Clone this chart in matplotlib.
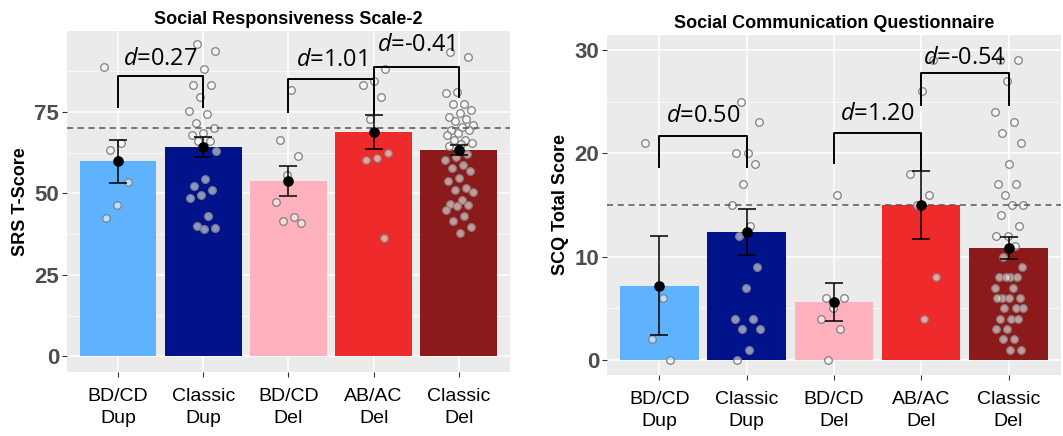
import numpy as np
import matplotlib.pyplot as plt
from matplotlib.ticker import FixedLocator

plt.rcParams['font.family'] = ['Liberation Sans', 'DejaVu Sans']
plt.rcParams['mathtext.fontset'] = 'custom'
plt.rcParams['mathtext.it'] = 'Open Sans:italic'
plt.rcParams['mathtext.rm'] = 'Open Sans'

groups = ["BD/CD\nDup", "Classic\nDup", "BD/CD\nDel", "AB/AC\nDel", "Classic\nDel"]
colors = ["#5FB3FE", "#00138A", "#FFB1BD", "#EE2A2B", "#8C1A1A"]

# Social Responsiveness Scale-2 (T-scores)
srs_mean = [59.9, 64.2, 53.7, 68.8, 63.3]
srs_sem = [6.6, 3.1, 4.6, 5.1, 1.4]
srs_points = [
    [88.6, 65.4, 63.3, 53.4, 46.3, 42.3],
    [95.7, 93.8, 88.0, 83.3, 83.3, 79.6, 75.3, 74.4, 71.6, 70.1, 68.5, 67.9,
     66.0, 66.0, 63.0, 54.3, 52.2, 50.9, 49.4, 48.5, 43.2, 40.1, 39.5, 39.2],
    [81.8, 66.4, 61.4, 55.6, 47.2, 42.6, 41.4, 41.0],
    [88.0, 84.6, 83.3, 79.6, 72.8, 62.3, 60.8, 60.2, 36.4],
    [93.2, 91.7, 81.2, 80.9, 77.5, 77.5, 75.6, 74.7, 73.5, 72.8, 72.2, 71.0,
     70.5, 69.4, 69.4, 68.5, 67.9, 66.4, 66.4, 65.4, 65.0, 64.5, 62.0, 61.0,
     60.2, 58.6, 57.7, 56.8, 54.6, 53.7, 51.5, 50.9, 50.3, 48.0, 46.6, 46.3,
     46.0, 44.8, 43.2, 41.4, 39.8, 37.7],
]
srs_cutoff = 70
# (left group, right group, bracket top, left leg end, right leg end, label y, label)
srs_brackets = [
    (0, 1, 86.1, 76.2, 76.2, 89.5, "0.27"),
    (2, 3, 85.0, 74.7, 74.0, 89.2, "1.01"),
    (3, 4, 88.9, 74.0, 79.3, 93.8, "-0.41"),
]

# Social Communication Questionnaire (total scores)
scq_mean = [7.2, 12.4, 5.6, 15.0, 10.8]
scq_sem = [4.75, 2.2, 1.8, 3.3, 1.05]
scq_points = [
    [21, 6, 2, 0],
    [25, 23, 20, 20, 19, 17, 15, 13, 12, 9, 7, 4, 4, 3, 3, 1, 0],
    [16, 6, 6, 5, 4, 3, 0],
    [29, 26, 18, 16, 15, 8, 4],
    [29, 29, 27, 24, 23, 22, 21, 19, 17, 17, 16, 15, 15, 14, 13, 12, 12, 11,
     10, 9, 8, 8, 8, 8, 7, 7, 6, 6, 6, 6, 5, 5, 5, 4, 4, 4, 3, 3, 2, 2, 1, 1],
]
scq_cutoff = 15
scq_brackets = [
    (0, 1, 21.7, 18.6, 18.6, 23.0, "0.50"),
    (2, 3, 22.0, 19.0, 18.3, 23.2, "1.20"),
    (3, 4, 27.8, 24.6, 24.6, 28.6, "-0.54"),
]


def draw_panel(ax, means, sems, points, cutoff, brackets, title, ylabel,
               ylim, majors, minors):
    x = np.arange(1, len(groups) + 1)
    ax.set_facecolor("#EBEBEB")
    ax.set_xlim(0.4, 5.6)
    ax.set_ylim(*ylim)
    ax.yaxis.set_major_locator(FixedLocator(majors))
    ax.yaxis.set_minor_locator(FixedLocator(minors))
    ax.set_xticks(x)
    ax.set_xticklabels(groups, fontsize=14, linespacing=1.4)
    ax.grid(True, which="major", color="white", lw=1.1, zorder=0)
    ax.grid(True, which="minor", axis="y", color="white", lw=0.5, zorder=0)
    ax.set_axisbelow(True)
    for s in ax.spines.values():
        s.set_visible(False)
    ax.tick_params(axis="both", which="major", length=3.5, color="#333333", width=0.8)
    ax.tick_params(axis="y", which="minor", length=0)
    ax.tick_params(axis="y", labelsize=16, labelcolor="#4D4D4D", pad=2)
    ax.tick_params(axis="x", pad=8)
    for lab in ax.get_yticklabels():
        lab.set_fontweight("bold")

    ax.bar(x, means, width=0.9, color=colors, zorder=2)

    # jittered raw scores
    for i, vals in enumerate(points):
        n = len(vals)
        off = ((np.arange(n) * 0.618 + 0.3 * i) % 1 - 0.5) * 0.34
        ax.scatter(x[i] + off, vals, s=30, facecolor=(1, 1, 1, 0.55),
                   edgecolor="#808080", linewidth=0.9, zorder=3)

    ax.axhline(cutoff, color="#555555", ls=(0, (4, 3)), lw=1.1, zorder=3.5)
    ax.errorbar(x, means, yerr=sems, fmt="none", ecolor="black", elinewidth=1.1,
                capsize=6.5, capthick=1.1, zorder=4)
    ax.scatter(x, means, s=44, color="black", zorder=5)

    for a, b, top, lend, rend, ty, txt in brackets:
        ax.plot([x[a], x[a], x[b], x[b]], [lend, top, top, rend],
                color="black", lw=1.4, zorder=6, solid_capstyle="butt")
        ax.text((x[a] + x[b]) / 2, ty, r"$\mathit{d}$=" + txt,
                ha="center", va="baseline", fontsize=17, family="Open Sans", zorder=7)

    ax.set_title(title, fontsize=13, fontweight="bold", pad=5)
    ax.set_ylabel(ylabel, fontsize=13, fontweight="bold", labelpad=4)


fig = plt.figure(figsize=(10.63, 4.36), dpi=100)
ax1 = fig.add_axes([0.063, 0.147, 0.4167, 0.782])
ax2 = fig.add_axes([0.571, 0.140, 0.427, 0.780])

draw_panel(ax1, srs_mean, srs_sem, srs_points, srs_cutoff, srs_brackets,
           "Social Responsiveness Scale-2", "SRS T-Score",
           (-4.75, 99.8), [0, 25, 50, 75], [12.5, 37.5, 62.5, 87.5])
draw_panel(ax2, scq_mean, scq_sem, scq_points, scq_cutoff, scq_brackets,
           "Social Communication Questionnaire", "SCQ Total Score",
           (-1.45, 31.45), [0, 10, 20, 30], [5, 15, 25])

fig.savefig("out.png", dpi=100)
